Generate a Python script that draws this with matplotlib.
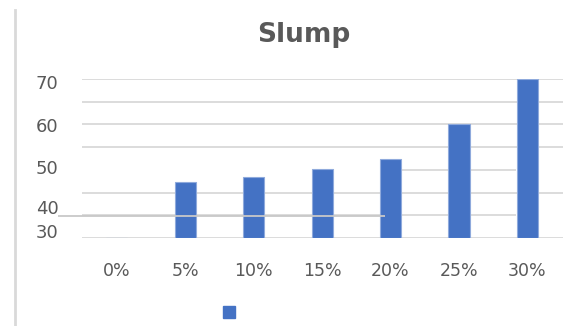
import numpy as np
import matplotlib
matplotlib.use('Agg')
import matplotlib.pyplot as plt
from matplotlib.lines import Line2D

# data
categories = ['0%', '5%', '10%', '15%', '20%', '25%', '30%']
slump = [0, 24.6, 27.0, 30.2, 34.9, 50.0, 70.0]
ytick_labels = ['70', '60', '50', '40', '30']
ytick_values = [68.8, 49.8, 31.4, 13.8, 3.2]

bar_color = '#4472C4'
text_color = '#595959'
grid_color = '#d9d9d9'

fig = plt.figure(figsize=(5.87, 3.26), dpi=100)
ax = fig.add_axes([0.1397, 0.270, 0.8193, 0.4877])

x = np.arange(len(categories))
ax.bar(x, slump, width=0.31, color=bar_color, edgecolor='#8faadc', linewidth=0.8, zorder=3)

ax.set_xlim(-0.51, 6.52)
ax.set_ylim(0, 70)

# gridlines (some are broken in the picture)
for v in [0, 20, 40, 50, 60, 70]:
    ax.axhline(v, color=grid_color, linewidth=1.3, zorder=1)
ax.hlines(30, 4.15, 5.83, color=grid_color, linewidth=1.3, zorder=1)
ax.hlines(10, -0.51, 5.83, color=grid_color, linewidth=1.3, zorder=1)
# stray line drawn over the bars
ax.hlines(9.5, -0.86, 3.92, color='#c8c8c8', linewidth=1.3, zorder=4, clip_on=False)

ax.set_xticks(x)
ax.set_xticklabels(categories, fontsize=12.5, color=text_color)
ax.set_yticks(ytick_values)
ax.set_yticklabels(ytick_labels, fontsize=13, color=text_color)
ax.tick_params(length=0)
ax.tick_params(axis='x', pad=17)
ax.tick_params(axis='y', pad=17)
for s in ax.spines.values():
    s.set_visible(False)

fig.text(0.518, 0.892, 'Slump', ha='center', va='center', fontsize=19,
         fontweight='bold', color=text_color)

# legend marker with no text
h = plt.Rectangle((0, 0), 1, 1, color=bar_color)
fig.legend([h], [''], loc='center', bbox_to_anchor=(0.39, 0.04), frameon=False,
           handlelength=0.9, handleheight=0.9, handletextpad=0)

# left border of the chart area
fig.add_artist(Line2D([0.026, 0.026], [0.0, 0.97], color=grid_color, linewidth=2,
                      transform=fig.transFigure))

fig.savefig('out.png', dpi=100)
